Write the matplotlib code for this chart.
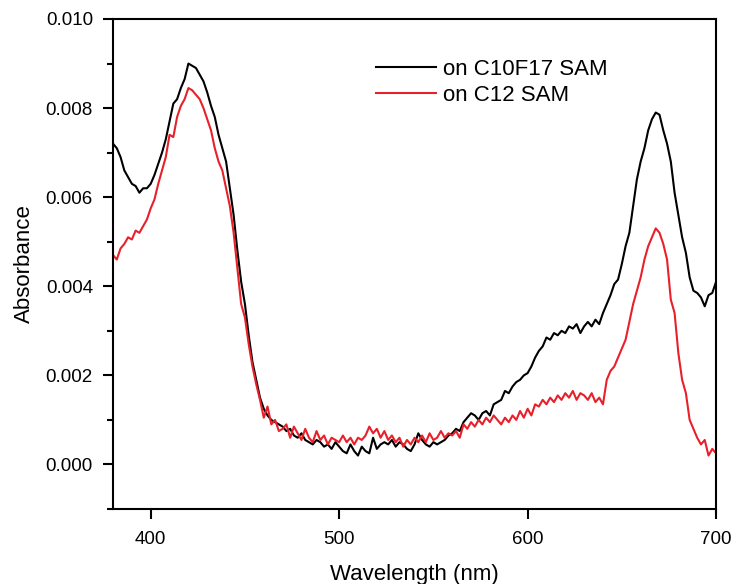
import numpy as np
import matplotlib
matplotlib.use('Agg')
import matplotlib.pyplot as plt
from matplotlib.ticker import MultipleLocator

plt.rcParams['font.family'] = ['Liberation Sans', 'DejaVu Sans']

# wavelength grid (nm), 2 nm steps
wavelength = np.arange(380, 701, 2)

# absorbance in units of 1e-3
c10f17 = [7.2, 7.1, 6.9, 6.6, 6.45, 6.3, 6.25, 6.1, 6.2, 6.2,
          6.3, 6.5, 6.75, 7.0, 7.3, 7.7, 8.1, 8.2, 8.45, 8.65,
          9.0, 8.95, 8.9, 8.75, 8.6, 8.35, 8.05, 7.8, 7.4, 7.1,
          6.8, 6.2, 5.6, 4.8, 4.1, 3.6, 2.9, 2.3, 1.9, 1.5,
          1.25, 1.1, 1.0, 0.95, 0.9, 0.85, 0.75, 0.8, 0.65, 0.6,
          0.7, 0.55, 0.5, 0.45, 0.55, 0.5, 0.4, 0.45, 0.35, 0.5,
          0.4, 0.3, 0.25, 0.45, 0.3, 0.2, 0.4, 0.3, 0.25, 0.6,
          0.35, 0.45, 0.5, 0.45, 0.55, 0.4, 0.5, 0.45, 0.35, 0.3,
          0.45, 0.7, 0.55, 0.45, 0.4, 0.5, 0.45, 0.5, 0.55, 0.65,
          0.7, 0.8, 0.75, 0.95, 1.05, 1.15, 1.1, 1.0, 1.15, 1.2,
          1.1, 1.35, 1.4, 1.45, 1.65, 1.6, 1.75, 1.85, 1.9, 2.0,
          2.05, 2.2, 2.4, 2.55, 2.65, 2.85, 2.8, 2.95, 2.9, 3.0,
          2.95, 3.1, 3.05, 3.15, 2.95, 3.1, 3.2, 3.1, 3.25, 3.15,
          3.4, 3.6, 3.8, 4.05, 4.15, 4.5, 4.9, 5.2, 5.8, 6.4,
          6.8, 7.1, 7.5, 7.75, 7.9, 7.85, 7.5, 7.2, 6.8, 6.1,
          5.6, 5.1, 4.75, 4.2, 3.9, 3.85, 3.75, 3.55, 3.8, 3.85,
          4.1]

c12 = [4.7, 4.6, 4.85, 4.95, 5.1, 5.05, 5.25, 5.2, 5.35, 5.5,
       5.75, 5.95, 6.3, 6.6, 6.9, 7.4, 7.35, 7.8, 8.05, 8.2,
       8.45, 8.4, 8.3, 8.2, 8.0, 7.75, 7.5, 7.1, 6.8, 6.6,
       6.2, 5.8, 5.2, 4.4, 3.6, 3.3, 2.7, 2.2, 1.8, 1.45,
       1.05, 1.3, 0.9, 1.0, 0.75, 0.8, 0.9, 0.6, 0.85, 0.7,
       0.55, 0.8, 0.6, 0.5, 0.75, 0.55, 0.65, 0.45, 0.6, 0.55,
       0.5, 0.65, 0.5, 0.6, 0.45, 0.6, 0.55, 0.65, 0.85, 0.7,
       0.8, 0.6, 0.75, 0.55, 0.65, 0.5, 0.6, 0.4, 0.55, 0.45,
       0.6, 0.5, 0.65, 0.5, 0.7, 0.55, 0.6, 0.75, 0.6, 0.7,
       0.65, 0.75, 0.6, 0.9, 0.8, 0.95, 0.85, 1.0, 0.9, 1.05,
       0.95, 1.1, 1.0, 0.9, 1.05, 0.95, 1.1, 1.0, 1.2, 1.05,
       1.25, 1.1, 1.35, 1.3, 1.45, 1.35, 1.5, 1.4, 1.55, 1.45,
       1.6, 1.5, 1.65, 1.45, 1.6, 1.55, 1.45, 1.6, 1.4, 1.5,
       1.35, 1.9, 2.1, 2.2, 2.4, 2.6, 2.8, 3.2, 3.6, 3.9,
       4.2, 4.6, 4.9, 5.1, 5.3, 5.2, 4.95, 4.6, 3.7, 3.4,
       2.5, 1.9, 1.6, 1.0, 0.8, 0.6, 0.45, 0.55, 0.2, 0.35,
       0.25]

fig = plt.figure(figsize=(7.32, 5.84), dpi=100)
ax = fig.add_axes([0.1544, 0.1284, 0.8238, 0.8391])

ax.plot(wavelength, np.array(c10f17) * 1e-3, color='black', lw=1.5, label='on C10F17 SAM')
ax.plot(wavelength, np.array(c12) * 1e-3, color='#e8202a', lw=1.5, label='on C12 SAM')

ax.set_xlim(380, 700)
ax.set_ylim(-0.001, 0.010)
ax.xaxis.set_major_locator(MultipleLocator(100))
ax.yaxis.set_major_locator(MultipleLocator(0.002))
ax.yaxis.set_minor_locator(MultipleLocator(0.001))
ax.yaxis.set_major_formatter(matplotlib.ticker.FormatStrFormatter('%.3f'))

for s in ax.spines.values():
    s.set_linewidth(1.5)
ax.tick_params(which='major', direction='out', length=7.5, width=1.5, labelsize=13.5)
ax.tick_params(which='minor', direction='out', length=4, width=1.5)
ax.tick_params(axis='x', pad=8.5)
ax.tick_params(axis='y', pad=7)

ax.set_xlabel('Wavelength (nm)', fontsize=16, labelpad=11)
ax.set_ylabel('Absorbance', fontsize=16, labelpad=8)

ax.legend(loc='upper left', bbox_to_anchor=(0.436, 0.918), frameon=False, fontsize=16,
          handlelength=2.7, handletextpad=0.3, labelspacing=0.2, borderpad=0, borderaxespad=0)

fig.savefig('out.png', dpi=100)
